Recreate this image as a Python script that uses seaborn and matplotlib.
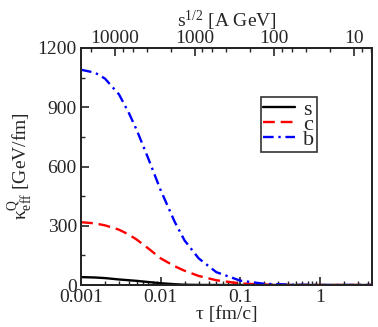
import numpy as np
import pandas as pd
import matplotlib
matplotlib.use("Agg")
import matplotlib.pyplot as plt
import seaborn as sns
from matplotlib.ticker import LogLocator, NullFormatter, MultipleLocator, FixedLocator, FixedFormatter

# ---- data ----
tau_s = [0.001, 0.0015, 0.002, 0.003, 0.005, 0.007, 0.01, 0.015, 0.02, 0.03, 0.05, 0.1, 1.0, 4.5]
kap_s = [40, 38, 35, 28, 21, 15, 9, 4, 1.5, 0.5, 0, 0, 0, 0]

tau_c = [0.001, 0.0015, 0.002, 0.003, 0.004, 0.005, 0.007, 0.01, 0.015, 0.02, 0.03,
         0.05, 0.1, 0.2, 0.5, 1.0, 4.5]
kap_c = [318, 312, 302, 280, 255, 230, 185, 135, 95, 72, 46, 24, 8, 2, 0, 0, 0]

tau_b = [0.001, 0.0015, 0.002, 0.003, 0.004, 0.005, 0.007, 0.01, 0.015, 0.02, 0.03,
         0.05, 0.1, 0.2, 0.5, 1.0, 4.5]
kap_b = [1090, 1075, 1045, 965, 870, 785, 640, 480, 320, 225, 135, 65, 22, 6, 1, 0, 0]

flavours = ["s", "c", "b"]
colors = {"s": "black", "c": "red", "b": "blue"}
dashes = {"s": "", "c": (5, 2.5), "b": (4.5, 2, 1, 2)}

y_ticks = [0, 300, 600, 900, 1200]
x_ticks = [0.001, 0.01, 0.1, 1]
x_ticklabels = ["0.001", "0.01", "0.1", "1"]
top_ticks = [10000, 1000, 100, 10]
top_ticklabels = ["10000", "1000", "100", "10"]
tau_sqrt_s = 26.6  # tau * sqrt(s) conversion constant

df = pd.concat([
    pd.DataFrame({"tau": tau_s, "kappa": kap_s, "Q": "s"}),
    pd.DataFrame({"tau": tau_c, "kappa": kap_c, "Q": "c"}),
    pd.DataFrame({"tau": tau_b, "kappa": kap_b, "Q": "b"}),
], ignore_index=True)

sns.set_style("ticks")
plt.rcParams["font.family"] = ["Liberation Serif", "DejaVu Serif"]
plt.rcParams["mathtext.fontset"] = "custom"
plt.rcParams["mathtext.rm"] = "Liberation Serif"
plt.rcParams["mathtext.it"] = "Liberation Serif:italic"
plt.rcParams["axes.linewidth"] = 1.4

fig = plt.figure(figsize=(3.78, 3.27), dpi=100)
ax = fig.add_axes([81 / 378, 42 / 327, 291 / 378, 237 / 327])

sns.lineplot(data=df, x="tau", y="kappa", hue="Q", style="Q", hue_order=flavours,
             style_order=flavours, palette=colors, dashes=dashes, lw=1.7, ax=ax,
             estimator=None, sort=False)

xmin, xmax = 0.001, 4.5
ax.set_xscale("log")
ax.set_xlim(xmin, xmax)
ax.set_ylim(0, 1200)

ax.xaxis.set_major_locator(FixedLocator(x_ticks))
ax.xaxis.set_major_formatter(FixedFormatter(x_ticklabels))
ax.xaxis.set_minor_locator(LogLocator(base=10, subs=np.arange(2, 10)))
ax.xaxis.set_minor_formatter(NullFormatter())
ax.yaxis.set_major_locator(FixedLocator(y_ticks))
ax.yaxis.set_minor_locator(MultipleLocator(150))

ax.tick_params(which="major", direction="in", length=6, width=1.2, labelsize=14,
               top=False, right=False, pad=3)
ax.tick_params(which="minor", direction="in", length=3, width=1.0, top=False, right=False)
for sp in ax.spines.values():
    sp.set_visible(True)
    sp.set_color("black")
    sp.set_linewidth(1.4)

ax.set_xlabel("τ [fm/c]", fontsize=14, labelpad=0)
ax.set_ylabel(r"κ${}^{\mathrm{Q}}_{\mathrm{eff}}$ [GeV/fm]", fontsize=14, labelpad=2)

ax2 = ax.twiny()
ax2.set_xscale("log")
ax2.set_xlim(tau_sqrt_s / xmin, tau_sqrt_s / xmax)
ax2.xaxis.set_major_locator(FixedLocator(top_ticks))
ax2.xaxis.set_major_formatter(FixedFormatter(top_ticklabels))
ax2.xaxis.set_minor_locator(LogLocator(base=10, subs=[2, 4, 6, 8]))
ax2.xaxis.set_minor_formatter(NullFormatter())
ax2.tick_params(which="major", direction="in", length=6, width=1.2, labelsize=14, pad=1)
ax2.tick_params(which="minor", direction="in", length=3, width=1.0)
ax2.set_xlabel(r"s$^{1/2}$ [A GeV]", fontsize=14, labelpad=2)
for sp in ax2.spines.values():
    sp.set_linewidth(1.4)

handles, labels = ax.get_legend_handles_labels()
leg = ax.legend(handles, labels, loc="upper left", bbox_to_anchor=(180 / 291, 1 - 49 / 237),
                frameon=True, fontsize=16, handlelength=1.45, handletextpad=0.35,
                labelspacing=-0.25, borderpad=0.1, borderaxespad=0, fancybox=False)
leg.get_frame().set_edgecolor("black")
leg.get_frame().set_linewidth(1.2)

fig.savefig("out.png", dpi=100)
